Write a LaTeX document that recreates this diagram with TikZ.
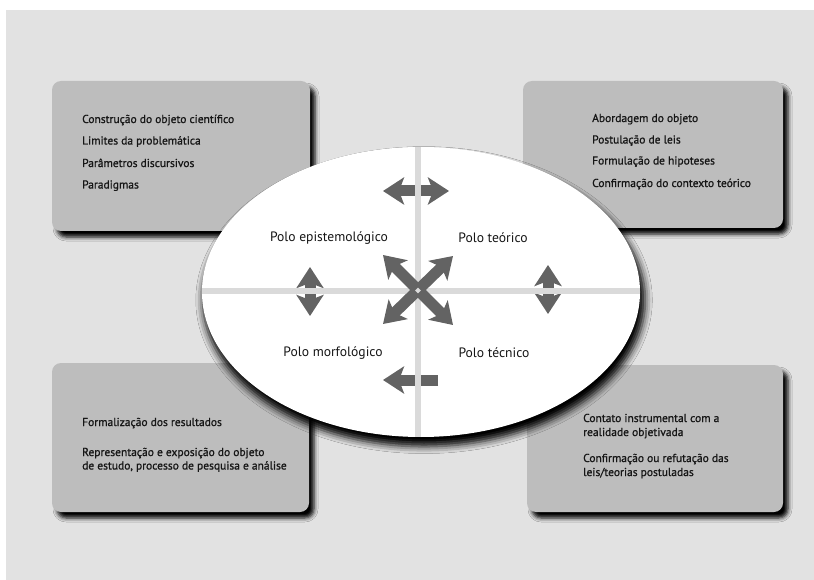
\documentclass[tikz,border=0pt]{standalone}
\usepackage{fontspec}
\setmainfont{PT Sans}
\newfontfamily\boxfont[FakeBold=0.9]{PT Sans}
\usetikzlibrary{arrows.meta,shadows.blur,shapes.geometric}
\definecolor{bgc}{HTML}{E2E2E2}
\definecolor{boxc}{HTML}{BDBDBD}
\definecolor{arrc}{HTML}{636363}
\definecolor{linec}{HTML}{DADADA}
\definecolor{txtc}{HTML}{161616}
\tikzset{
  infobox/.style={rectangle, rounded corners=9pt, fill=boxc, draw=none, inner sep=0pt,
    blur shadow={shadow xshift=5pt, shadow yshift=-6pt, shadow blur radius=4pt, shadow opacity=100}},
  boxtext/.style={anchor=base west, inner sep=0pt, text=txtc, font=\boxfont\fontsize{11.5}{13}\selectfont},
  polo/.style={inner sep=0pt, text=txtc, font=\fontsize{13.6}{15}\selectfont},
  bigarrow/.style={draw=arrc, line width=11pt, -{Stealth[length=21pt,width=27pt,inset=5pt]}},
  bigdouble/.style={draw=arrc, line width=11pt, {Stealth[length=21pt,width=27pt,inset=5pt]}-{Stealth[length=21pt,width=27pt,inset=5pt]}},
  divline/.style={draw=linec, line width=6.5pt},
}
\begin{document}
\begin{tikzpicture}[x=1pt,y=-1pt]
\useasboundingbox (0,0) rectangle (814,580);
\fill[white] (0,0) rectangle (814,580);
\fill[bgc] (6,10) rectangle (814,580);

% boxes
\node[infobox, minimum width=258pt, minimum height=150pt] (tl) at (181,156) {};
\node[infobox, minimum width=260pt, minimum height=147pt] (tr) at (653,154.5) {};
\node[infobox, minimum width=257pt, minimum height=149pt] (bl) at (180.5,437.5) {};
\node[infobox, minimum width=256pt, minimum height=147pt] (br) at (655,438.5) {};

% box texts
\node[boxtext] (tl1) at (82,123) {Construção do objeto científico};
\node[boxtext] (tl2) at (82,144.5) {Limites da problemática};
\node[boxtext] (tl3) at (82,167) {Parâmetros discursivos};
\node[boxtext] (tl4) at (82,188.5) {Paradigmas};

\node[boxtext] (tr1) at (592,122) {Abordagem do objeto};
\node[boxtext] (tr2) at (592,143.5) {Postulação de leis};
\node[boxtext] (tr3) at (592,164.5) {Formulação de hipoteses};
\node[boxtext] (tr4) at (592,187) {Confirmação do contexto teórico};

\node[boxtext] (bl1) at (82,426) {Formalização dos resultados};
\node[boxtext] (bl2) at (82,456) {Representação e exposição do objeto};
\node[boxtext] (bl3) at (82,469.5) {de estudo, processo de pesquisa e análise};

\node[boxtext] (br1) at (583,422) {Contato instrumental com a};
\node[boxtext] (br2) at (583,436) {realidade objetivada};
\node[boxtext] (br3) at (583,462) {Confirmação ou refutação das};
\node[boxtext] (br4) at (583,476) {leis/teorias postuladas};

% ellipse
\node[ellipse, fill=white, draw=none, minimum width=438pt, minimum height=290pt, inner sep=0pt,
  blur shadow={shadow xshift=3pt, shadow yshift=-8pt, shadow blur radius=7pt, shadow scale=1.01, shadow opacity=100}] (ell) at (421,292) {};

% arrows (below dividing lines)
\coordinate (ta1) at (383,191); \coordinate (ta2) at (449,191);
\coordinate (la1) at (310,267); \coordinate (la2) at (310,316);
\coordinate (ra1) at (548,265); \coordinate (ra2) at (548,314);
\coordinate (ba1) at (438,380); \coordinate (ba2) at (383,380);
\draw[bigdouble] (ta1) -- (ta2);
\draw[bigdouble] (la1) -- (la2);
\draw[bigdouble] (ra1) -- (ra2);
\draw[bigarrow] (ba1) -- (ba2);

% dividing lines
\coordinate (vt) at (418,147); \coordinate (vb) at (418,437);
\coordinate (hl) at (202,291); \coordinate (hr) at (640,291);
\draw[divline] (vt) -- (vb);
\draw[divline] (hl) -- (hr);

% central X
\coordinate (x1) at (383,255); \coordinate (x2) at (453,325);
\coordinate (x3) at (453,256); \coordinate (x4) at (383,324);
\draw[bigdouble] (x1) -- (x2);
\draw[bigdouble] (x3) -- (x4);
\node[diamond, fill=linec, inner sep=0pt, minimum size=6pt] (xc) at (418,290.5) {};

% labels
\node[polo] (pe) at (329,238) {Polo epistemológico};
\node[polo] (pt) at (493,238) {Polo teórico};
\node[polo] (pm) at (333,353) {Polo morfológico};
\node[polo] (pc) at (494,353) {Polo técnico};
\end{tikzpicture}
\end{document}
